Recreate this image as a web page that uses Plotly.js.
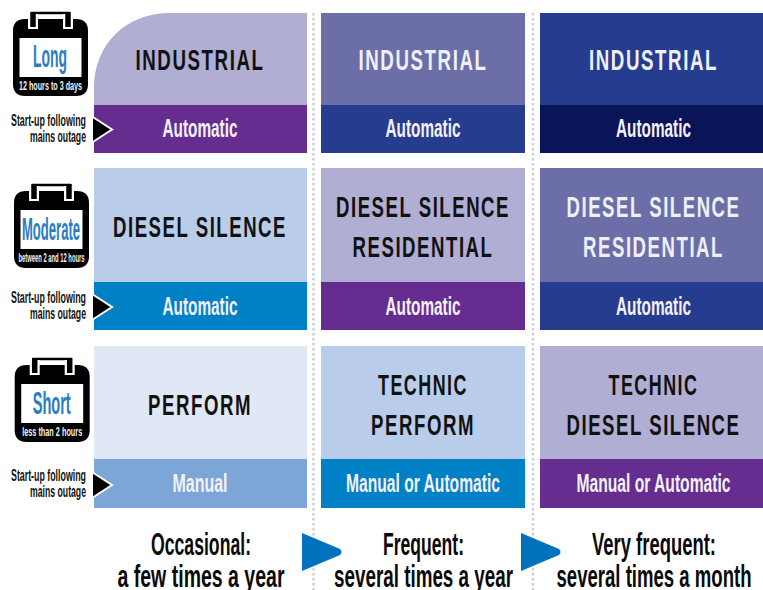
<!DOCTYPE html>
<html><head><meta charset="utf-8">
<script src="https://cdn.plot.ly/plotly-3.0.1.min.js"></script>
<style>html,body{margin:0;padding:0;background:#fff}#c{width:763px;height:590px}</style>
</head><body><div id="c"></div>
<script>
// Content
const frequencyHeads = ["Occasional:", "Frequent:", "Very frequent:"];
const frequencySubs = ["a few times a year", "several times a year", "several times a month"];
const durations = ["Long", "Moderate", "Short"];
const durationSubs = ["12 hours to 3 days", "between 2 and 12 hours", "less than 2 hours"];
const startupLines = ["Start-up following", "mains outage"];
const ranges = [
  [["INDUSTRIAL"], ["INDUSTRIAL"], ["INDUSTRIAL"]],
  [["DIESEL SILENCE"], ["DIESEL SILENCE", "RESIDENTIAL"], ["DIESEL SILENCE", "RESIDENTIAL"]],
  [["PERFORM"], ["TECHNIC", "PERFORM"], ["TECHNIC", "DIESEL SILENCE"]]
];
const startModes = [
  ["Automatic", "Automatic", "Automatic"],
  ["Automatic", "Automatic", "Automatic"],
  ["Manual", "Manual or Automatic", "Manual or Automatic"]
];
// Palette
const rangeColors = [
  ["#b0aed2", "#6c6ea8", "#263d8f"],
  ["#b9cdea", "#b0aed2", "#6c6ea8"],
  ["#e0e7f5", "#b9cdea", "#b0aed2"]
];
const modeColors = [
  ["#652d90", "#263d8f", "#0a1459"],
  ["#0081c6", "#652d90", "#263d8f"],
  ["#7ca5d8", "#0081c6", "#652d90"]
];
const rangeTextColors = [
  ["#111111", "#eef0f8", "#eef0f8"],
  ["#111111", "#111111", "#eef0f8"],
  ["#111111", "#111111", "#111111"]
];
// Geometry of the grid
const colEdges = [[94, 306.5], [321, 525], [540, 762.5]];
const colCentres = [200, 423, 653.5];
const rowEdges = [[13, 104.5, 153], [168, 282, 330], [346, 459, 508]];
const rowLineY = [[62.5], [229.5], [407]];
const calendars = [{x: 13, y: 19, labelY: 59.5, subY: 87}, {x: 14, y: 191, labelY: 232, subY: 258.5}, {x: 14.7, y: 365, labelY: 406.5, subY: 433}];
const widths = {
  "INDUSTRIAL": 129, "DIESEL SILENCE": 174, "RESIDENTIAL": 141, "PERFORM": 104, "TECHNIC": 90,
  "Automatic": 75, "Manual": 55, "Manual or Automatic": 154,
  "Occasional:": 100, "Frequent:": 81, "Very frequent:": 124,
  "a few times a year": 167, "several times a year": 179, "several times a month": 195,
  "Long": 34, "Moderate": 58, "Short": 38,
  "12 hours to 3 days": 63, "between 2 and 12 hours": 66, "less than 2 hours": 60,
  "Start-up following": 75, "mains outage": 56
};

const NARROW = '"Liberation Sans Narrow", "Liberation Sans", sans-serif';
const bars = {x: [], y: [], base: [], width: [], color: []};
function addBar(x0, x1, y0, y1, color) {
  bars.x.push((x0 + x1) / 2); bars.width.push(x1 - x0);
  bars.base.push(y0); bars.y.push(y1 - y0); bars.color.push(color);
}
const groups = {};
function label(key, x, y, text, size, color, family, weight) {
  const g = groups[key] || (groups[key] = {x: [], y: [], text: [], size: [], color: [], family: family, weight: weight || "normal"});
  g.x.push(x); g.y.push(y); g.text.push(text); g.size.push(size); g.color.push(color);
}
rowEdges.forEach((r, i) => colEdges.forEach((c, j) => {
  addBar(c[0], c[1], r[0], r[1], rangeColors[i][j]);
  addBar(c[0], c[1], r[1], r[2], modeColors[i][j]);
  const cx = colCentres[j];
  const lines = ranges[i][j];
  const midY = rowLineY[i][0];
  lines.forEach((t, k) => {
    const yy = lines.length === 1 ? midY : midY + (k === 0 ? -20 : 20);
    label("range", cx, yy, t, 30, rangeTextColors[i][j], NARROW, "bold");
  });
  label("mode", cx, (r[1] + r[2]) / 2 + 2, startModes[i][j], 26, "#f4f1fa", NARROW, "bold");
}));
frequencyHeads.forEach((t, j) => {
  const cx = [201, 423.5, 654][j];
  label("foot", cx, 547, t, 32, "#0a0a0a", NARROW, "bold");
  label("foot", cx, 579, frequencySubs[j], 32, "#0a0a0a", NARROW, "bold");
});

const shapes = [];
// rounded top-left corner of first cell
shapes.push({type: "path", xref: "x", yref: "y", layer: "above", line: {width: 0}, fillcolor: "#ffffff",
  path: "M 93 12 L 170 12 L 170 13 C 125 13 94 45 94 88 L 94 90 L 93 90 Z"});
// dotted separators
[313.5, 533].forEach(x => shapes.push({type: "line", xref: "x", yref: "y", x0: x, x1: x, y0: 13, y1: 590, layer: "below",
  line: {color: "#cfcfd3", width: 2.5, dash: "2.5px 2.5px"}}));
// flow arrows
[302, 521].forEach(x => shapes.push({type: "path", xref: "x", yref: "y", line: {width: 0}, fillcolor: "#0071bc",
  path: `M ${x} 533 L ${x + 38} 549 Q ${x + 41} 552 ${x + 38} 555 L ${x} 571 Z`}));
// start-up pointers
[129.5, 307, 485].forEach(y => shapes.push({type: "path", xref: "x", yref: "y", line: {color: "#ffffff", width: 2}, fillcolor: "#000000",
  path: `M 92 ${y - 13} L 112 ${y} L 92 ${y + 13} Z`}));
// calendars (below the text traces)
calendars.forEach((c, i) => {
  const x = c.x, y = c.y, w = 75, h = 77, r = 12;
  shapes.push({type: "path", layer: "between", xref: "x", yref: "y", line: {width: 0}, fillcolor: "#000000",
    path: `M ${x + r} ${y} L ${x + w - r} ${y} Q ${x + w} ${y} ${x + w} ${y + r} L ${x + w} ${y + h - r} Q ${x + w} ${y + h} ${x + w - r} ${y + h} L ${x + r} ${y + h} Q ${x} ${y + h} ${x} ${y + h - r} L ${x} ${y + r} Q ${x} ${y} ${x + r} ${y} Z`});
  shapes.push({type: "rect", layer: "between", xref: "x", yref: "y", x0: x + 6.5, x1: x + w - 6.5, y0: y + 19, y1: y + 58, line: {width: 0}, fillcolor: "#ffffff"});
  shapes.push({type: "line", layer: "between", xref: "x", yref: "y", x0: x + 18, x1: x + 57, y0: y - 6, y1: y - 6, line: {color: "#000000", width: 2.5}});
  [x + 20, x + 55].forEach(cx => {
    shapes.push({type: "line", layer: "between", xref: "x", yref: "y", x0: cx, x1: cx, y0: y - 5, y1: y + 10, line: {color: "#ffffff", width: 10}});
    shapes.push({type: "line", layer: "between", xref: "x", yref: "y", x0: cx, x1: cx, y0: y - 7, y1: y + 8, line: {color: "#000000", width: 5.5}});
  });
  label("calTitle", x + 37, c.labelY, durations[i], 31, "#2b7cc2", NARROW, "bold");
  label("calSub", x + 37.5, c.subY, durationSubs[i], 13.5, "#f2f2f2", NARROW, "bold");
  const py = [129.5, 307, 485][i];
  label("startup", 86, py - 8, startupLines[0], 16, "#111111", NARROW, "bold");
  label("startup", 86, py + 8, startupLines[1], 16, "#111111", NARROW, "bold");
});

const traces = [{
  type: "bar", x: bars.x, y: bars.y, base: bars.base, width: bars.width,
  marker: {color: bars.color, line: {width: 0}}, hoverinfo: "skip", showlegend: false
}];
Object.keys(groups).forEach(k => {
  const g = groups[k];
  traces.push({
    type: "scatter", mode: "text", x: g.x, y: g.y, text: g.text,
    textposition: k === "startup" ? "middle left" : "middle center",
    textfont: {size: g.size, color: g.color, family: g.family, weight: g.weight},
    hoverinfo: "skip", showlegend: false, cliponaxis: false
  });
});

const layout = {
  width: 763, height: 590, margin: {l: 0, r: 0, t: 0, b: 0},
  paper_bgcolor: "#ffffff", plot_bgcolor: "#ffffff", barmode: "overlay", bargap: 0,
  xaxis: {range: [0, 763], visible: false, fixedrange: true},
  yaxis: {range: [590, 0], visible: false, fixedrange: true},
  shapes: shapes, showlegend: false
};
Plotly.newPlot("c", traces, layout, {staticPlot: true, displayModeBar: false}).then(gd => {
  gd.querySelectorAll(".textpoint text").forEach(t => {
    const s = t.textContent, w = widths[s];
    if (!w) return;
    if (/^[A-Z ]+$/.test(s)) t.style.letterSpacing = "2.5px";
    t.setAttribute("textLength", w);
    t.setAttribute("lengthAdjust", "spacingAndGlyphs");
  });
});
</script></body></html>
